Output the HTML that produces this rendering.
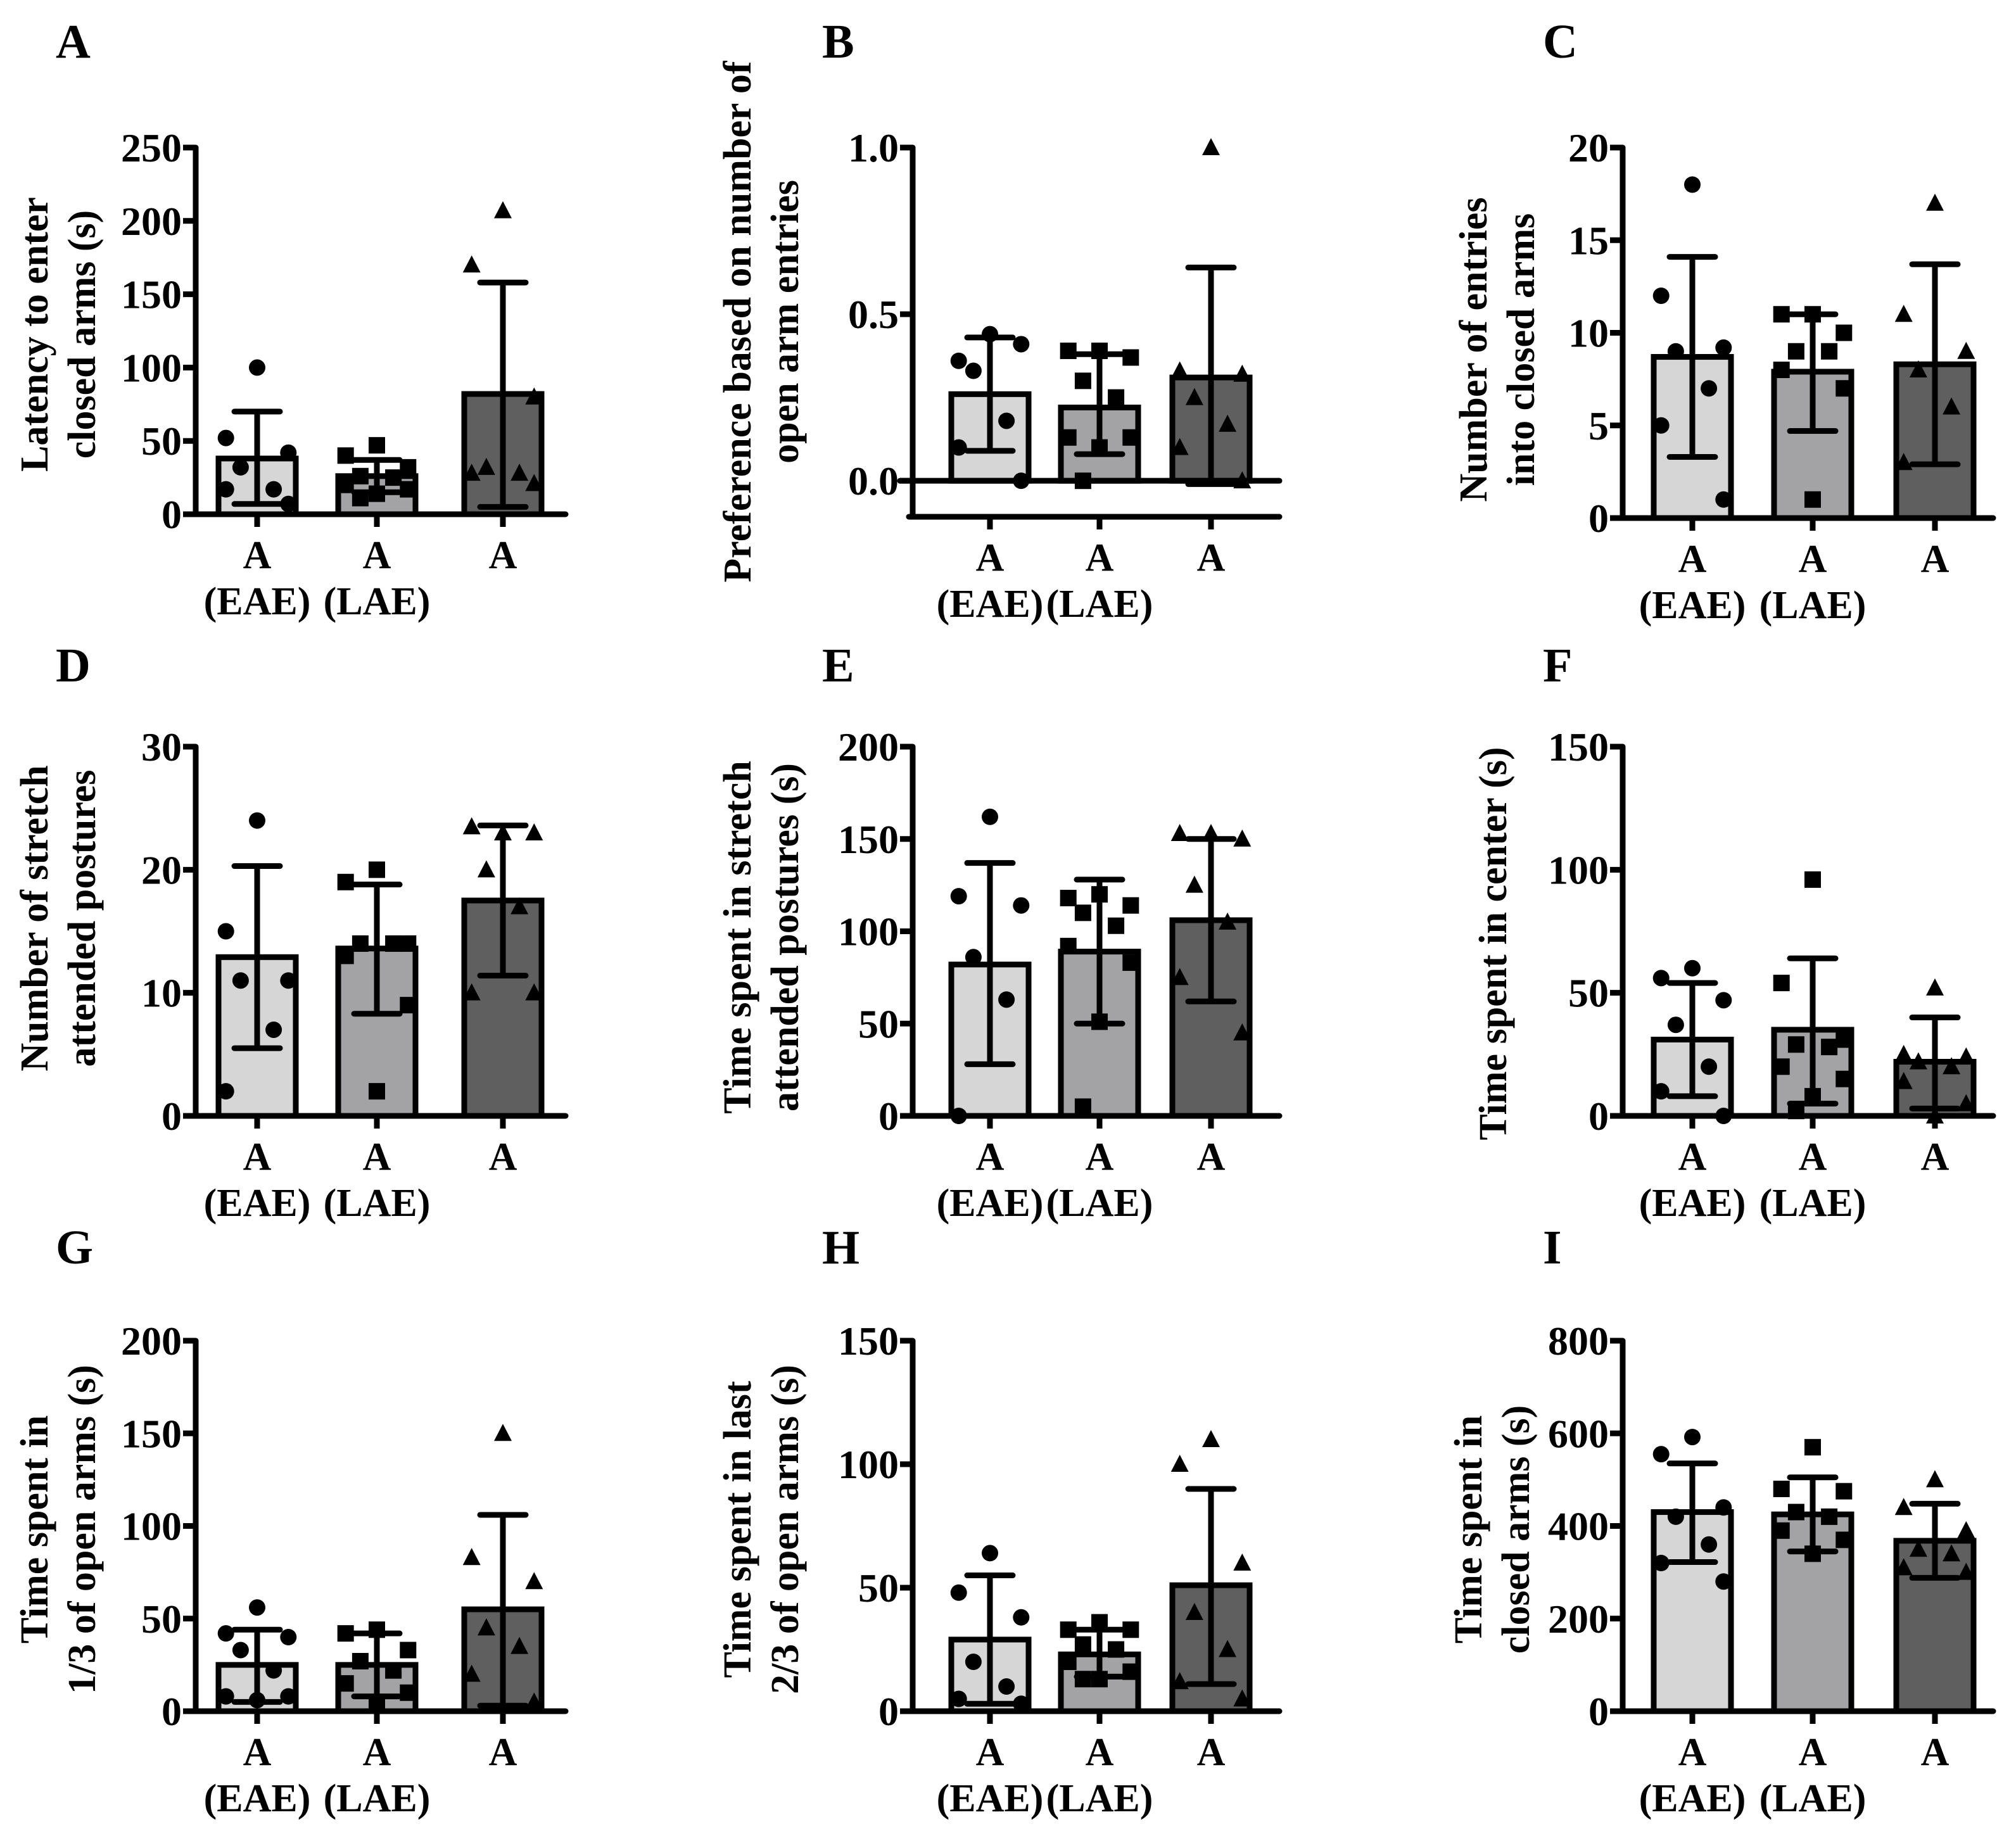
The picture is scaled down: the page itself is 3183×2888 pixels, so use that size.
<!DOCTYPE html>
<html><head><meta charset="utf-8"><style>
html,body{margin:0;padding:0;background:#fff;}
svg{display:block;font-family:"Liberation Serif",serif;font-weight:bold;}
</style></head>
<body>
<svg id="fig" width="3183" height="2888" viewBox="0 0 3183 2888" xmlns="http://www.w3.org/2000/svg" font-family="Liberation Serif, serif" font-weight="bold"></svg>
<script>
// ---- data ----
const groupLabels = ["A (EAE)", "A (LAE)", "A"];
const aMeans=[38,26,82]; const aLow=[7,15,5]; const aHigh=[70,37,158];
const aPts1=[100,52,42,32,17,17,7]; const aPts2=[47,40,32,26,25,20,17,14,11]; const aPts3=[207,170,80,32,28,28,21];
const aTicks=["0","50","100","150","200","250"];
const bMeans=[0.26,0.22,0.31]; const bLow=[0.09,0.08,-0.01]; const bHigh=[0.43,0.38,0.64];
const bPts1=[0.44,0.36,0.41,0.33,0.18,0.1,0.0]; const bPts2=[0.39,0.39,0.37,0.3,0.25,0.13,0.13,0.1,0.0]; const bPts3=[1.0,0.33,0.32,0.25,0.17,0.1,0.0];
const bTicks=["0.0","0.5","1.0"];
const cMeans=[8.7,7.9,8.3]; const cLow=[3.3,4.7,2.9]; const cHigh=[14.1,11.0,13.7];
const cPts1=[18,12,9.2,9,7,5,1]; const cPts2=[11,11,10,9,9,8,7,1]; const cPts3=[17,11,9,8,6,3];
const cTicks=["0","5","10","15","20"];
const dMeans=[12.9,13.6,17.5]; const dLow=[5.5,8.3,11.4]; const dHigh=[20.3,18.8,23.6];
const dPts1=[24,15,11,11,7,2]; const dPts2=[20,19,14,14,14,13,9,2]; const dPts3=[23,23.5,23,20,17,10,10];
const dTicks=["0","10","20","30"];
const eMeans=[82,89,106]; const eLow=[28,50,62]; const eHigh=[137,128,150];
const ePts1=[162,119,114,86,63,0]; const ePts2=[120,118,114,110,103,92,83,51,5]; const ePts3=[153,153,150,125,105,75,45];
const eTicks=["0","50","100","150","200"];
const fMeans=[31,35,22]; const fLow=[8,5,3]; const fHigh=[54,64,40];
const fPts1=[60,56,47,37,20,10,0]; const fPts2=[96,54,31,29,28,20,15,8,2]; const fPts3=[52,25,24,22,20,14,5,0];
const fTicks=["0","50","100","150"];
const gMeans=[25,25,55]; const gLow=[5,8,3]; const gHigh=[44,42,106];
const gPts1=[56,42,40,33,22,8,8,6]; const gPts2=[44,42,33,27,22,15,10,5]; const gPts3=[150,83,70,45,35,20,5];
const gTicks=["0","50","100","150","200"];
const hMeans=[29,23,51]; const hLow=[3,14,11]; const hHigh=[55,33,90];
const hPts1=[64,48,38,20,10,5,3]; const hPts2=[36,33,33,27,25,20,16,13,13]; const hPts3=[110,100,60,40,25,12,5];
const hTicks=["0","50","100","150"];
const iMeans=[430,425,368]; const iLow=[322,345,288]; const iHigh=[535,505,448];
const iPts1=[592,555,440,420,360,320,280]; const iPts2=[570,480,475,430,420,390,370,340]; const iPts3=[500,440,390,350,340,310,300];
const iTicks=["0","200","400","600","800"];

const NS="http://www.w3.org/2000/svg";
const svg=document.getElementById('fig');
function mk(tag,attrs,parent){const e=document.createElementNS(NS,tag);for(const k in attrs)e.setAttribute(k,attrs[k]);(parent||svg).appendChild(e);return e;}
const fills=["#d6d6d6","#a3a3a5","#5f5f5f"];
const jitter=[0,-0.85,0.85,-0.45,0.45,-0.85,0.85,0,-0.45,0.45];

function panel(cfg){
  const g=mk('g',{});
  
  
  const ymin=cfg.ymin, ymax=cfg.ymax;
  const y=v=>cfg.bottom-(v-ymin)/(ymax-ymin)*(cfg.bottom-cfg.top);
  const zeroY=y(0);
  const L=mk('text',{x:cfg.lx,y:cfg.ly,'font-size':76},g); L.textContent=cfg.letter;
  
  
  const tt=mk('text',{'font-size':62,'text-anchor':'middle',transform:`translate(${cfg.tx},${cfg.ty}) rotate(-90)`},g);
  
  
  cfg.title.forEach((line,i)=>{const ts=mk('tspan',{x:0,y:i*75-(cfg.title.length-1)*75},tt);ts.textContent=line;});
  for(let k=0;k<3;k++){
    const cx=cfg.cx[k], w=122;
    const yt=y(cfg.means[k]);
    const r=mk('rect',{x:cx-w/2,y:yt,width:w,height:zeroY-yt,fill:fills[k],stroke:'#000','stroke-width':9},g);
    
    
  }
  for(let k=0;k<3;k++){
    const cx=cfg.cx[k];
    cfg.pts[k].forEach((v,i)=>{
      const px=cx+jitter[i%jitter.length]*58, py=y(v);
      let m;
      if(k===0) m=mk('circle',{cx:px,cy:py,r:13,fill:'#000'},g);
      else if(k===1) m=mk('rect',{x:px-13,y:py-13,width:26,height:26,fill:'#000'},g);
      else m=mk('polygon',{points:`${px},${py-15} ${px-14},${py+12} ${px+14},${py+12}`,fill:'#000'},g);
      
      
    });
  }
  for(let k=0;k<3;k++){
    const cx=cfg.cx[k];
    const e=mk('path',{d:`M${cx},${y(cfg.low[k])}V${y(cfg.high[k])}M${cx-36},${y(cfg.high[k])}H${cx+36}M${cx-36},${y(cfg.low[k])}H${cx+36}`,stroke:'#000','stroke-width':9,'stroke-linecap':'round',fill:'none'},g);
    
    
  }
  const ax=mk('path',{d:`M${cfg.ax},${cfg.top}V${cfg.bottom}M${cfg.ax-6},${cfg.bottom}H${cfg.end}`,stroke:'#000','stroke-width':9,'stroke-linecap':'round',fill:'none'},g);
  
  
  if(ymin<0){
    const zl=mk('path',{d:`M${cfg.ax-20},${zeroY}H${cfg.end}`,stroke:'#000','stroke-width':9,'stroke-linecap':'round'},g);
    
    
  }
  cfg.ticks.forEach(t=>{
    const ty=y(parseFloat(t));
    mk('path',{d:`M${cfg.ax-20},${ty}H${cfg.ax}`,stroke:'#000','stroke-width':9},g);
    const tl=mk('text',{x:cfg.ax-22,y:ty+22,'font-size':64,'text-anchor':'end'},g);
    tl.textContent=t;
    
    
  });
  groupLabels.forEach((lab,k)=>{
    const cx=cfg.cx[k];
    mk('path',{d:`M${cx},${cfg.bottom}V${cfg.bottom+20}`,stroke:'#000','stroke-width':9},g);
    const parts=lab.split(' ');
    const t1=mk('text',{x:cx,y:cfg.bottom+85,'font-size':62,'text-anchor':'middle'},g);
    t1.textContent=parts[0];
    
    
    if(parts[1]){
      const t2=mk('text',{x:cx,y:cfg.bottom+158,'font-size':62,'text-anchor':'middle'},g);
      t2.textContent=parts[1];
      
      
    }
  });
}
const C1={ax:309,cx:[406,595,794],end:893,lx:88,tx:150};
const C2={ax:1441,cx:[1563,1736,1912],end:2020,lx:1298,tx:1260};
const C3={ax:2562,cx:[2672,2862,3055],end:3147,lx:2436,tx:2422};
function P(col,o){return Object.assign({},col,o);}
panel(P(C1,{letter:'A',ly:91,top:233,bottom:812,ymin:0,ymax:250,ty:528,title:['Latency to enter','closed arms (s)'],means:aMeans,low:aLow,high:aHigh,pts:[aPts1,aPts2,aPts3],ticks:aTicks}));
panel(P(C2,{letter:'B',ly:91,top:233,bottom:816,ymin:-0.108,ymax:1.0,ty:508,title:['Preference based on number of','open arm entries'],means:bMeans,low:bLow,high:bHigh,pts:[bPts1,bPts2,bPts3],ticks:bTicks}));
panel(P(C3,{letter:'C',ly:91,top:233,bottom:818,ymin:0,ymax:20,ty:552,title:['Number of entries','into closed arms'],means:cMeans,low:cLow,high:cHigh,pts:[cPts1,cPts2,cPts3],ticks:cTicks}));
panel(P(C1,{letter:'D',ly:1076,top:1179,bottom:1762,ymin:0,ymax:30,ty:1450,title:['Number of stretch','attended postures'],means:dMeans,low:dLow,high:dHigh,pts:[dPts1,dPts2,dPts3],ticks:dTicks}));
panel(P(C2,{letter:'E',ly:1076,top:1179,bottom:1762,ymin:0,ymax:200,ty:1480,title:['Time spent in stretch','attended postures (s)'],means:eMeans,low:eLow,high:eHigh,pts:[ePts1,ePts2,ePts3],ticks:eTicks}));
panel(P(C3,{letter:'F',ly:1076,top:1179,bottom:1762,ymin:0,ymax:150,ty:1490,tx:2378,title:['Time spent in center (s)'],means:fMeans,low:fLow,high:fHigh,pts:[fPts1,fPts2,fPts3],ticks:fTicks}));
panel(P(C1,{letter:'G',ly:1995,top:2117,bottom:2702,ymin:0,ymax:200,ty:2415,title:['Time spent in','1/3 of open arms (s)'],means:gMeans,low:gLow,high:gHigh,pts:[gPts1,gPts2,gPts3],ticks:gTicks}));
panel(P(C2,{letter:'H',ly:1995,top:2117,bottom:2702,ymin:0,ymax:150,ty:2415,title:['Time spent in last','2/3 of open arms (s)'],means:hMeans,low:hLow,high:hHigh,pts:[hPts1,hPts2,hPts3],ticks:hTicks}));
panel(P(C3,{letter:'I',ly:1995,top:2117,bottom:2702,ymin:0,ymax:800,ty:2415,tx:2414,title:['Time spent in','closed arms (s)'],means:iMeans,low:iLow,high:iHigh,pts:[iPts1,iPts2,iPts3],ticks:iTicks}));
</script>
</body></html>
